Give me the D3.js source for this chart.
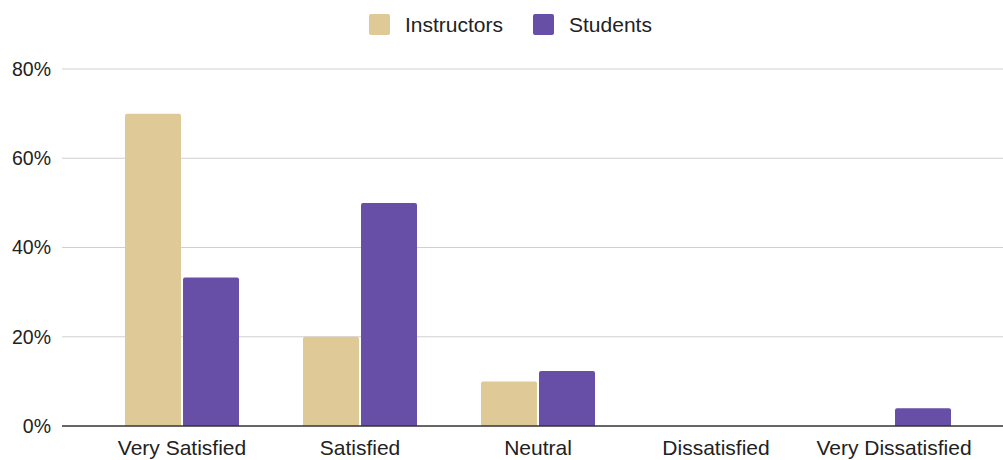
<!DOCTYPE html>
<html>
<head>
<meta charset="utf-8">
<script src="https://cdn.jsdelivr.net/npm/d3@7"></script>
<style>
  body { margin: 0; background: #fff; }
  text { font-family: "Liberation Sans", Arial, sans-serif; fill: #222; font-size: 21px; }
</style>
</head>
<body>
<div id="chart"></div>
<script>
const categories = ["Very Satisfied", "Satisfied", "Neutral", "Dissatisfied", "Very Dissatisfied"]
const seriesNames = ["Instructors", "Students"]
const instructors = [0.70, 0.20, 0.10, 0, 0]
const students = [0.333, 0.50, 0.123, 0, 0.04]
const yTicks = [0, 0.2, 0.4, 0.6, 0.8]
const colors = ["#dfc996", "#674ea7"]

const width = 1003, height = 460
const gridL = 62, gridR = 1003
const svg = d3.select("#chart").append("svg")
  .attr("width", width).attr("height", height)

const x = d3.scaleBand().domain(categories).range([93, 983])
const xs = d3.scaleBand().domain(seriesNames).range([-57, 57]).paddingInner(0.035)
const y = d3.scaleLinear().domain([0, 0.8]).range([426, 69])

// grid
svg.append("g").selectAll("line").data(yTicks.slice(1)).join("line")
  .attr("x1", gridL).attr("x2", gridR)
  .attr("y1", d => y(d)).attr("y2", d => y(d))
  .attr("stroke", "#d0d0d0").attr("stroke-width", 1.2)

svg.append("g").selectAll("text").data(yTicks).join("text")
  .attr("x", 51).attr("y", d => y(d)).attr("dy", "0.35em")
  .attr("text-anchor", "end").style("font-size", "19.5px")
  .text(d3.format(".0%"))

// bars
const data = categories.map((c, i) => ({ c, vals: [instructors[i], students[i]] }))
const groups = svg.append("g").selectAll("g").data(data).join("g")
  .attr("transform", d => `translate(${x(d.c) + x.bandwidth() / 2},0)`)
groups.selectAll("path").data(d => d.vals.map((v, j) => ({ v, s: seriesNames[j], j })).filter(e => e.v > 0))
  .join("path")
  .attr("fill", d => colors[d.j])
  .attr("d", d => {
    const x0 = xs(d.s), w = xs.bandwidth(), y0 = y(d.v), y1 = y(0), r = 2
    return `M${x0},${y1}V${y0 + r}Q${x0},${y0} ${x0 + r},${y0}H${x0 + w - r}Q${x0 + w},${y0} ${x0 + w},${y0 + r}V${y1}Z`
  })

// baseline
svg.append("line").attr("x1", gridL).attr("x2", gridR)
  .attr("y1", y(0)).attr("y2", y(0))
  .attr("stroke", "#333").attr("stroke-width", 1.5)

svg.append("g").selectAll("text").data(categories).join("text")
  .attr("x", d => x(d) + x.bandwidth() / 2).attr("y", 448).attr("dy", "0.35em")
  .attr("text-anchor", "middle")
  .text(d => d)

// legend
const legendX = [369, 533]
const lg = svg.append("g").selectAll("g").data(seriesNames).join("g")
  .attr("transform", (d, i) => `translate(${legendX[i]},14)`)
lg.append("rect").attr("width", 21).attr("height", 21).attr("rx", 2)
  .attr("fill", (d, i) => colors[i])
lg.append("text").attr("x", 36).attr("y", 10.5).attr("dy", "0.35em")
  .text(d => d)
</script>
</body>
</html>
